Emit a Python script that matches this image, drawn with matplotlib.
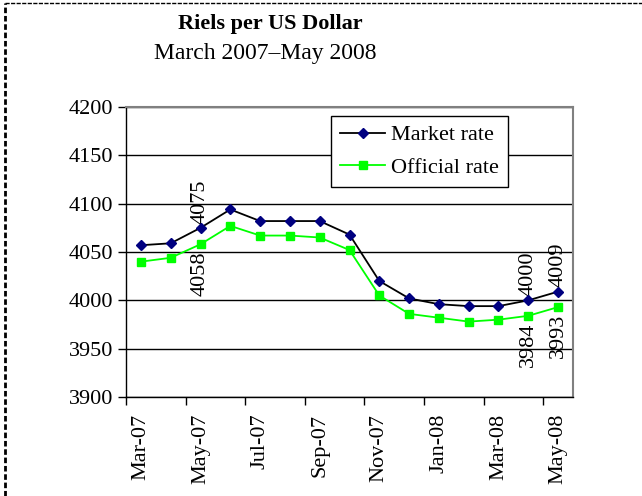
import matplotlib.pyplot as plt
from matplotlib.lines import Line2D
import numpy as np

plt.rcParams['font.family'] = ['Liberation Serif', 'DejaVu Serif']

months = ['Mar-07', 'Apr-07', 'May-07', 'Jun-07', 'Jul-07', 'Aug-07', 'Sep-07',
          'Oct-07', 'Nov-07', 'Dec-07', 'Jan-08', 'Feb-08', 'Mar-08', 'Apr-08', 'May-08']
market = [4057, 4059, 4075, 4094, 4082, 4082, 4082, 4068, 4020, 4002, 3996, 3994, 3994, 4000, 4009]
official = [4040, 4044, 4058, 4077, 4067, 4067, 4065, 4052, 4005, 3986, 3982, 3978, 3980, 3984, 3993]
# which points carry a value label
labelled = [2, 13, 14]

fig = plt.figure(figsize=(6.42, 4.96), dpi=100)
ax = fig.add_axes([0.1963, 0.1996, 0.6962, 0.5847])

x = np.arange(len(months))
ax.plot(x, market, color='black', lw=1.3, marker='D', ms=5.5,
        mfc='#000080', mec='#000080', label='Market rate', zorder=4)
ax.plot(x, official, color='#00FF00', lw=1.3, marker='s', ms=5.5,
        mfc='#00FF00', mec='#00FF00', label='Official rate', zorder=3)

for i in labelled:
    ax.annotate(str(market[i]), (x[i], market[i]), xytext=(0, 3), textcoords='offset points',
                rotation=90, ha='center', va='bottom', fontsize=16)
    ax.annotate(str(official[i]), (x[i], official[i]), xytext=(0, -5), textcoords='offset points',
                rotation=90, ha='center', va='top', fontsize=16)

ax.set_xlim(-0.5, len(months) - 0.5)
ax.set_ylim(3900, 4200)
ax.set_yticks(range(3900, 4201, 50))
ax.yaxis.grid(True, color='black', lw=1)
ax.set_axisbelow(True)

# ticks sit on category borders every two months, labels at category centres
ax.set_xticks(np.arange(-0.5, len(months) - 1, 2))
ax.set_xticklabels([])
ax.set_xticks(x[::2], minor=True)
ax.set_xticklabels(months[::2], minor=True, rotation=90, fontsize=16)
ax.tick_params(axis='x', which='minor', length=0, pad=12)
ax.tick_params(axis='x', which='major', direction='out', length=6, width=1)
ax.tick_params(axis='y', direction='out', length=6, width=1, labelsize=16, pad=3)

for s in ['top', 'right']:
    ax.spines[s].set_color('#808080')
    ax.spines[s].set_linewidth(1.5)
for s in ['left', 'bottom']:
    ax.spines[s].set_color('black')
    ax.spines[s].set_linewidth(1)

leg = ax.legend(loc='upper right', bbox_to_anchor=(0.855, 0.969), borderaxespad=0,
                fontsize=16, fancybox=False, framealpha=1, edgecolor='black',
                borderpad=0.4, handlelength=2.0, handletextpad=0.3, labelspacing=0.55)
leg.get_frame().set_linewidth(1)

fig.text(0.421, 0.952, 'Riels per US Dollar', ha='center', va='center',
         fontsize=16, fontweight='bold')
fig.text(0.413, 0.893, 'March 2007\u2013May 2008', ha='center', va='center', fontsize=17)

# dashed outer border (left and top edges)
fig.add_artist(Line2D([0.008, 0.008], [0, 0.993], transform=fig.transFigure,
                      color='black', lw=2, ls=(0, (2, 1))))
fig.add_artist(Line2D([0.008, 1], [0.993, 0.993], transform=fig.transFigure,
                      color='black', lw=1, ls=(0, (3, 1))))

fig.savefig('out.png', dpi=100)
